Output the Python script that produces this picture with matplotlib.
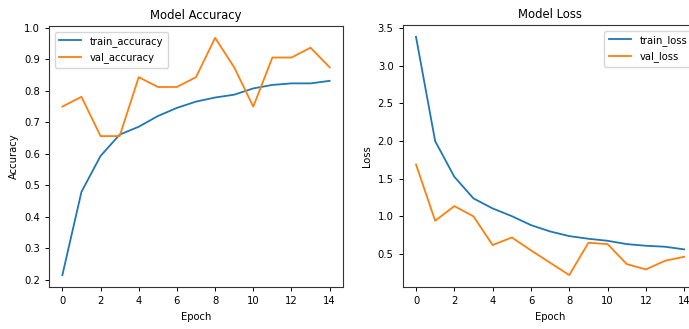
import matplotlib
matplotlib.use("Agg")
import matplotlib.pyplot as plt

epochs = list(range(15))
train_accuracy = [0.214, 0.479, 0.593, 0.661, 0.686, 0.720, 0.746, 0.766, 0.779, 0.788, 0.808, 0.819, 0.824, 0.824, 0.832]
val_accuracy = [0.75, 0.78125, 0.65625, 0.65625, 0.84375, 0.8125, 0.8125, 0.84375, 0.96875, 0.875, 0.75, 0.90625, 0.90625, 0.9375, 0.875]
train_loss = [3.38, 1.998, 1.525, 1.238, 1.105, 1.003, 0.884, 0.800, 0.738, 0.703, 0.676, 0.632, 0.610, 0.597, 0.562]
val_loss = [1.688, 0.941, 1.136, 1.0, 0.619, 0.72, 0.549, 0.385, 0.221, 0.65, 0.632, 0.367, 0.296, 0.411, 0.464]

fs = 8.0
plt.rcParams['font.family'] = ['DejaVu Sans']
plt.rcParams['font.stretch'] = 'condensed'
plt.rcParams['font.size'] = fs
W, H = 689, 329
fig = plt.figure(figsize=(W/100, H/100), dpi=100)

ax1 = fig.add_axes([49/W, 1-287/H, 294/W, 261/H])
ax2 = fig.add_axes([402.6/W, 1-287/H, 295/W, 262/H])

lw = 1.3
ax1.plot(epochs, train_accuracy, label='train_accuracy', color='#1f77b4', lw=lw)
ax1.plot(epochs, val_accuracy, label='val_accuracy', color='#ff7f0e', lw=lw)
ax1.set_title('Model Accuracy', fontsize=9.3, pad=5)
ax1.set_xlabel('Epoch', fontsize=fs)
ax1.set_ylabel('Accuracy', fontsize=fs)
ax1.legend(loc='upper left', fontsize=fs)

ax2.plot(epochs, train_loss, label='train_loss', color='#1f77b4', lw=lw)
ax2.plot(epochs, val_loss, label='val_loss', color='#ff7f0e', lw=lw)
ax2.set_title('Model Loss', fontsize=9.3, pad=5)
ax2.set_xlabel('Epoch', fontsize=fs)
ax2.set_ylabel('Loss', fontsize=fs)
ax2.legend(loc='upper right', fontsize=fs)

for ax in (ax1, ax2):
    ax.tick_params(labelsize=fs, width=0.7, length=3)
    for s in ax.spines.values():
        s.set_linewidth(0.8)
        s.set_color('#333333')

fig.savefig('out.png', dpi=100)
